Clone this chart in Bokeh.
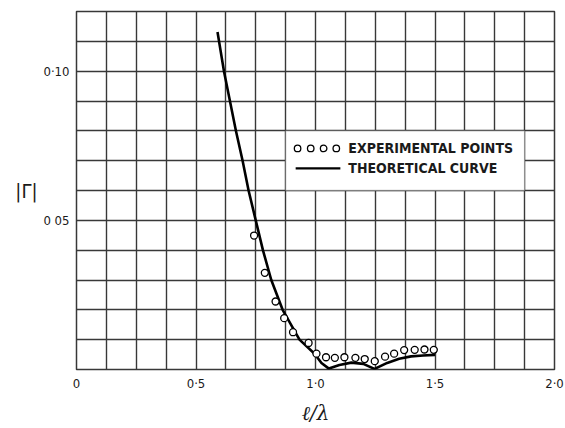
from bokeh.plotting import figure
from bokeh.models import Range1d, FixedTicker, Label, BoxAnnotation
from bokeh.embed import file_html
from bokeh.resources import INLINE

# ---- data ----
exp_x = [0.743, 0.788, 0.833, 0.869, 0.906, 0.971, 1.004, 1.044, 1.081, 1.121,
         1.167, 1.206, 1.248, 1.291, 1.329, 1.371, 1.415, 1.456, 1.495]
exp_y = [0.0449, 0.0324, 0.0228, 0.0172, 0.0125, 0.0089, 0.0053, 0.0041, 0.0039, 0.0041,
         0.0039, 0.0035, 0.0028, 0.0043, 0.0053, 0.0065, 0.0066, 0.0067, 0.0066]

theory_x = [0.59, 0.617, 0.642, 0.667, 0.695, 0.72, 0.75, 0.78, 0.815, 0.8625,
            0.933, 0.996, 1.025, 1.056, 1.10, 1.15, 1.20, 1.247, 1.30, 1.35,
            1.40, 1.45, 1.50]
theory_y = [0.1131, 0.100, 0.090, 0.080, 0.070, 0.060, 0.050, 0.040, 0.030, 0.020,
            0.010, 0.0053, 0.0022, 0.0003, 0.0015, 0.0023, 0.0019, 0.0002, 0.0022, 0.0036,
            0.0044, 0.0047, 0.0049]

x_ticks = [0, 0.5, 1.0, 1.5, 2.0]
x_tick_labels = ["0", "0·5", "1·0", "1·5", "2·0"]
y_ticks = [0.05, 0.10]
y_tick_labels = ["0 05", "0·10"]

grid_x = [0.125 * k for k in range(17)]
grid_y = [0.01 * k for k in range(13)]

legend_labels = ["EXPERIMENTAL POINTS", "THEORETICAL CURVE"]

GRID = "#383838"
INK = "#1a1a1a"
FONT = "DejaVu Sans Condensed"

p = figure(frame_width=478, frame_height=358,
           x_range=Range1d(0, 2.0), y_range=Range1d(0, 0.12),
           output_backend="svg", toolbar_location=None,
           min_border_left=76, min_border_right=11,
           min_border_top=11, min_border_bottom=59)

p.background_fill_color = "white"
p.border_fill_color = "white"
p.outline_line_color = GRID
p.outline_line_width = 1.5

p.xgrid.ticker = FixedTicker(ticks=grid_x)
p.ygrid.ticker = FixedTicker(ticks=grid_y)
p.grid.grid_line_color = GRID
p.grid.grid_line_width = 1.4
p.grid.grid_line_alpha = 1.0

p.xaxis.ticker = FixedTicker(ticks=x_ticks)
p.yaxis.ticker = FixedTicker(ticks=y_ticks)
p.xaxis.major_label_overrides = {t: s for t, s in zip(x_ticks, x_tick_labels)}
p.yaxis.major_label_overrides = {t: s for t, s in zip(y_ticks, y_tick_labels)}
p.axis.axis_line_color = None
p.axis.major_tick_line_color = None
p.axis.minor_tick_line_color = None
p.axis.major_tick_out = 0
p.axis.major_tick_in = 0
p.axis.major_label_text_font = FONT
p.axis.major_label_text_font_size = "13px"
p.axis.major_label_text_color = INK
p.xaxis.major_label_standoff = 6
p.yaxis.major_label_standoff = 7

# axis titles
p.xaxis.axis_label = "ℓ/λ"
p.xaxis.axis_label_text_font = "DejaVu Serif"
p.xaxis.axis_label_text_font_style = "italic"
p.xaxis.axis_label_text_font_size = "20px"
p.xaxis.axis_label_text_color = INK
p.xaxis.axis_label_standoff = 7

p.yaxis.axis_label = "|Γ|"
p.yaxis.axis_label_text_font = FONT
p.yaxis.axis_label_text_font_style = "normal"
p.yaxis.axis_label_text_font_size = "20px"
p.yaxis.axis_label_text_color = INK
p.yaxis.axis_label_standoff = 3
try:
    p.yaxis.axis_label_orientation = "horizontal"
except Exception:
    pass

# theoretical curve
p.line(theory_x, theory_y, line_color="black", line_width=2.6)
# experimental points
p.scatter(exp_x, exp_y, marker="circle", size=7, fill_color="white",
          line_color="black", line_width=1.3)

# legend box (occupies grid cells, drawn under the glyphs)
p.add_layout(BoxAnnotation(left=0.875, right=1.875, bottom=0.06, top=0.08,
                           fill_color="white", fill_alpha=1.0,
                           line_color=GRID, line_width=1.4, level="underlay"))
p.scatter([0.925, 0.980, 1.034, 1.087], [0.0741] * 4, marker="circle", size=6.5,
          fill_color="white", line_color="black", line_width=1.3)
p.line([0.917, 1.104], [0.0674, 0.0674], line_color="black", line_width=2.2)
p.add_layout(Label(x=1.1375, y=0.0741, text=legend_labels[0], text_font=FONT,
                   text_font_style="bold", text_font_size="14px",
                   text_baseline="middle", text_color=INK))
p.add_layout(Label(x=1.1375, y=0.0674, text=legend_labels[1], text_font=FONT,
                   text_font_style="bold", text_font_size="14px",
                   text_baseline="middle", text_color=INK))

open("out.html", "w").write(file_html(p, INLINE))
